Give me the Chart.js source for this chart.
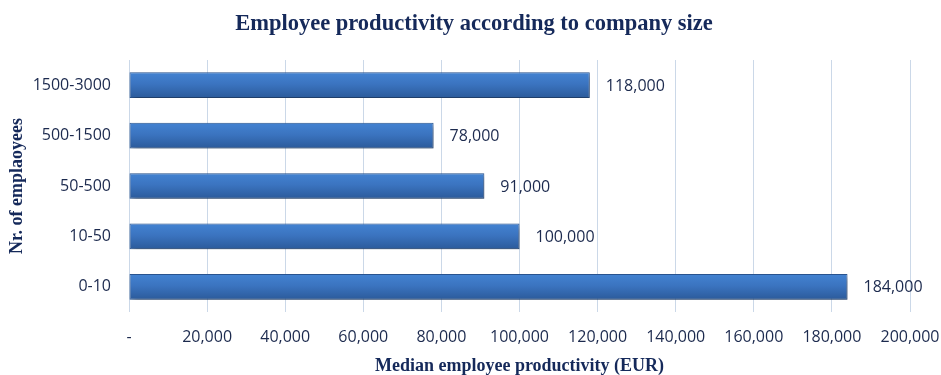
<!DOCTYPE html>
<html>
<head>
<meta charset="utf-8">
<script src="https://cdn.jsdelivr.net/npm/chart.js@4/dist/chart.umd.min.js"></script>
<style>
  html, body { margin: 0; padding: 0; background: #fff; }
  #wrap { width: 941px; height: 375px; }
</style>
</head>
<body>
<div id="wrap"><canvas id="chart"></canvas></div>
<script>
  // data
  var sizes = ["0-10", "10-50", "50-500", "500-1500", "1500-3000"];
  var productivity = [184000, 100000, 91000, 78000, 118000];
  var xMax = 200000;
  var xStep = 20000;

  var textColor = "#1c2a4e";
  var navy = "#15295a";

  function fmt(v) {
    return v === 0 ? "-" : v.toLocaleString("en-US");
  }

  // vertical gradient per bar
  function barFill(context) {
    var chart = context.chart;
    var y = chart.scales.y;
    if (!y || !chart.chartArea) return "#3468b0";
    var c = y.getPixelForValue(context.dataIndex);
    var g = chart.ctx.createLinearGradient(0, c - 13, 0, c + 13);
    g.addColorStop(0, "#4383d2");
    g.addColorStop(0.45, "#3b74c0");
    g.addColorStop(1, "#2b5a9a");
    return g;
  }

  // drop shadow under the bars
  var barShadow = {
    id: "barShadow",
    beforeDatasetsDraw: function (chart) {
      var ctx = chart.ctx;
      ctx.save();
      ctx.shadowColor = "rgba(0, 0, 0, 0.35)";
      ctx.shadowBlur = 5;
      ctx.shadowOffsetX = 2;
      ctx.shadowOffsetY = 3;
    },
    afterDatasetsDraw: function (chart) {
      chart.ctx.restore();
    }
  };

  // value labels right of each bar
  var valueLabels = {
    id: "valueLabels",
    afterDraw: function (chart) {
      var ctx = chart.ctx;
      var meta = chart.getDatasetMeta(0);
      ctx.save();
      ctx.font = "16px 'Open Sans'";
      ctx.fillStyle = textColor;
      ctx.textAlign = "left";
      ctx.textBaseline = "middle";
      meta.data.forEach(function (bar, i) {
        ctx.fillText(fmt(productivity[i]), bar.x + 16, bar.y + 1);
      });
      ctx.restore();
    }
  };

  var ctx = document.getElementById("chart").getContext("2d");
  var myChart = new Chart(ctx, {
    type: "bar",
    data: {
      labels: sizes,
      datasets: [
        {
          data: productivity,
          backgroundColor: barFill,
          borderColor: "#2a5591",
          borderWidth: 1,
          borderSkipped: false,
          barPercentage: 0.51,
          categoryPercentage: 1
        }
      ]
    },
    options: {
      indexAxis: "y",
      responsive: true,
      maintainAspectRatio: false,
      animation: false,
      layout: { padding: { left: 7, right: 0, top: 2, bottom: 0 } },
      plugins: {
        legend: { display: false },
        tooltip: { enabled: false },
        title: {
          display: true,
          text: "Employee productivity according to company size",
          color: navy,
          font: { family: "'Liberation Serif'", size: 22.5, weight: "bold" },
          padding: { top: 9, bottom: 22 }
        }
      },
      scales: {
        x: {
          min: 0,
          max: xMax,
          afterFit: function (scale) {
            scale.paddingRight = 31;
            scale.paddingLeft = 0;
            scale.height = 63;
          },
          ticks: {
            stepSize: xStep,
            color: textColor,
            font: { family: "'Open Sans'", size: 16, lineHeight: 1 },
            padding: 17,
            callback: function (v) { return fmt(v); }
          },
          grid: { color: "#cbd8e8", drawTicks: false },
          border: { display: false },
          title: {
            display: true,
            text: "Median employee productivity (EUR)",
            color: navy,
            font: { family: "'Liberation Serif'", size: 18, weight: "bold", lineHeight: 1 },
            padding: { top: 12, bottom: 0 }
          }
        },
        y: {
          reverse: true,
          afterFit: function (scale) {
            scale.width = 122;
          },
          ticks: {
            color: textColor,
            font: { family: "'Open Sans'", size: 16 },
            padding: 18
          },
          grid: { display: false, drawTicks: false },
          border: { display: false },
          title: {
            display: true,
            text: "Nr. of emplaoyees",
            color: navy,
            font: { family: "'Liberation Serif'", size: 18, weight: "bold" },
            padding: { top: 0, bottom: 4 }
          }
        }
      }
    },
    plugins: [barShadow, valueLabels]
  });
</script>
</body>
</html>
